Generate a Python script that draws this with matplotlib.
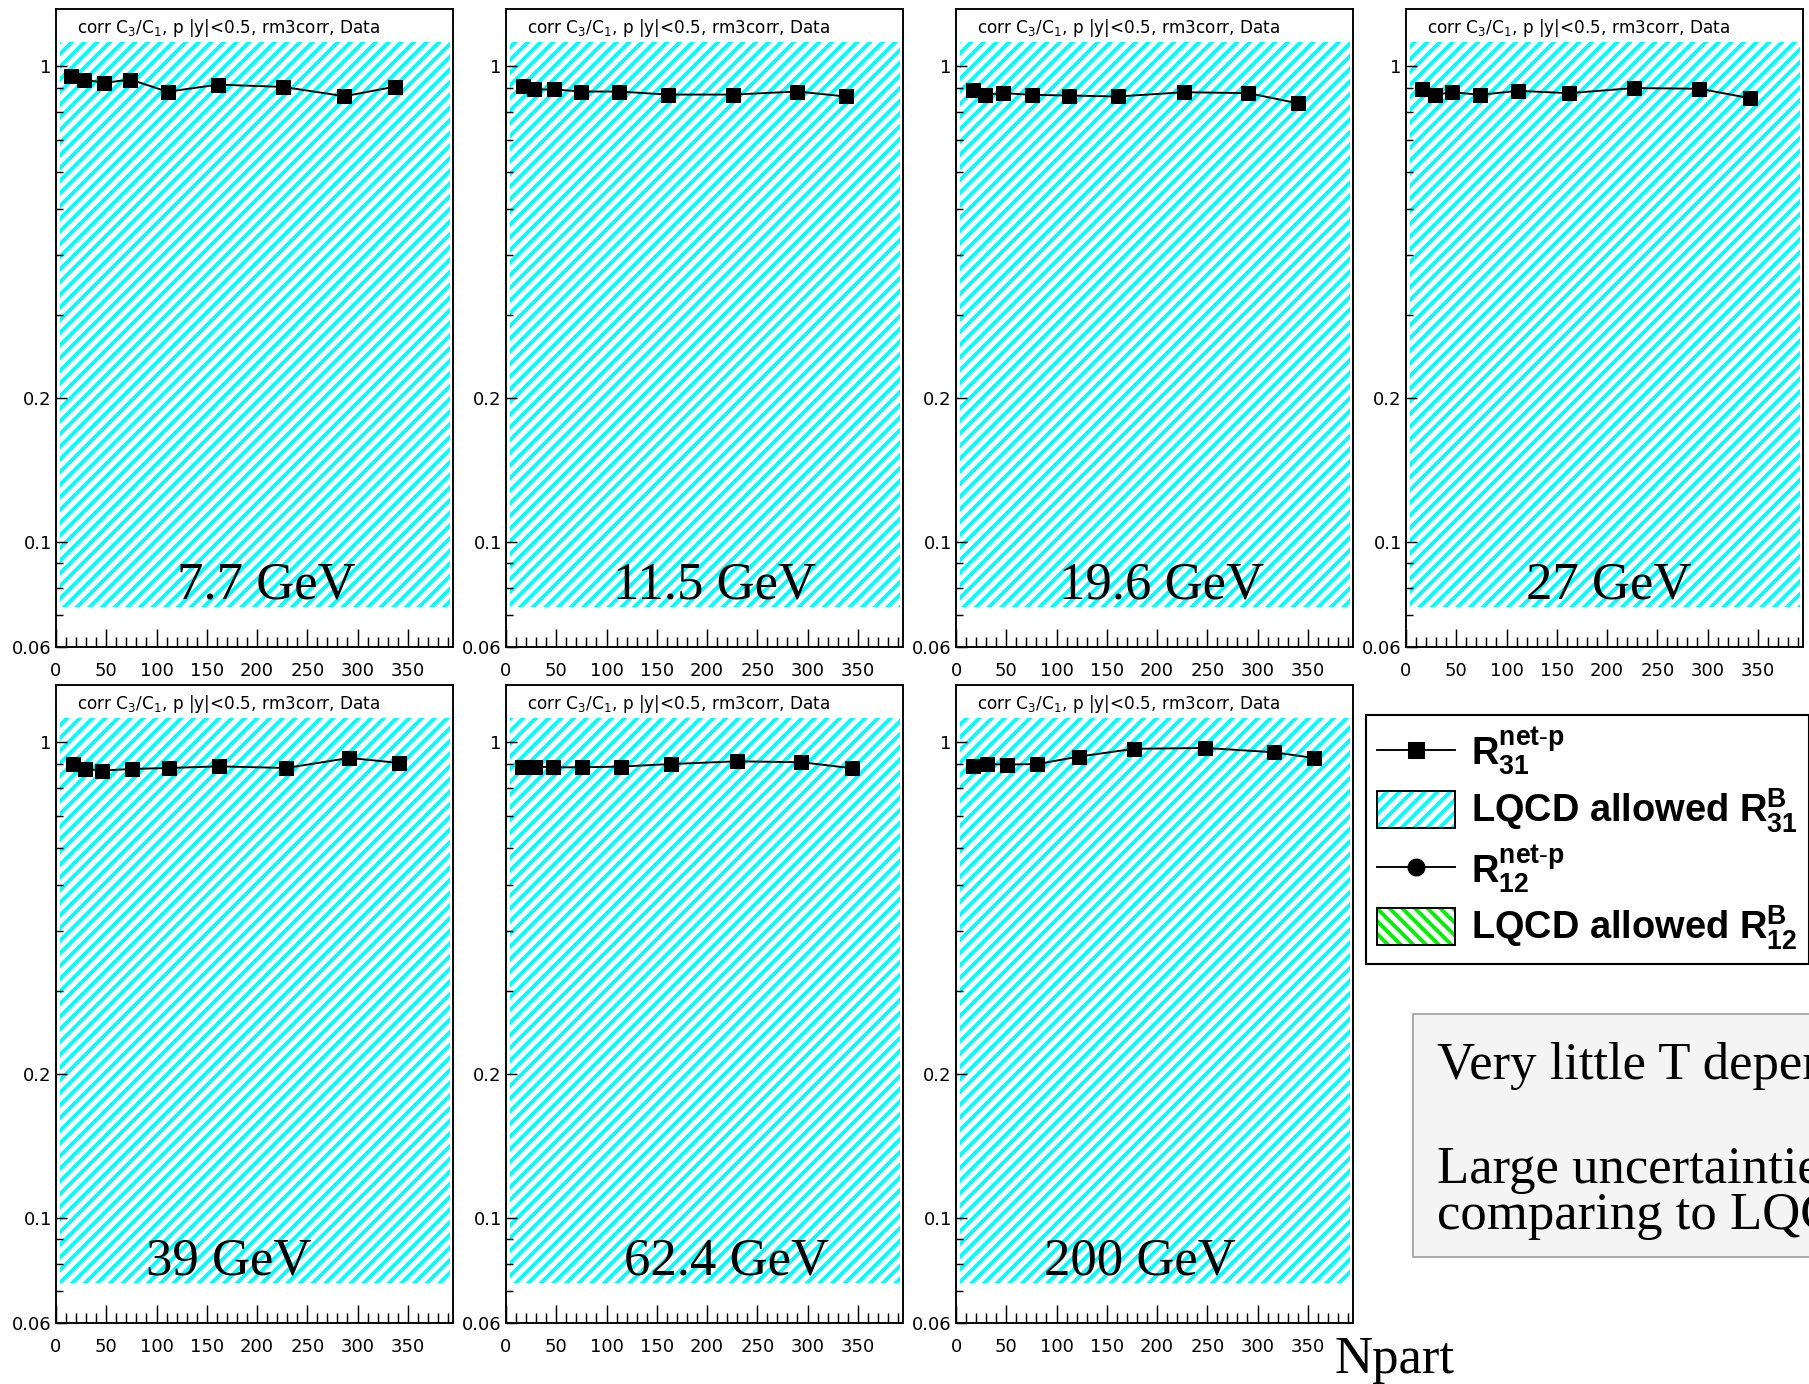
import numpy as np
import matplotlib.pyplot as plt
from matplotlib.lines import Line2D
from matplotlib.patches import Patch, Rectangle
from matplotlib.ticker import FixedLocator, FixedFormatter, NullFormatter

# dpi 76 so that the default hatch spacing matches the ROOT pattern
DPI = 76
W, H = 1810, 1384

plt.rcParams['font.family'] = ['DejaVu Sans']
plt.rcParams['mathtext.fontset'] = 'dejavusans'
plt.rcParams['hatch.linewidth'] = 3.6

# data
energies = ['7.7 GeV', '11.5 GeV', '19.6 GeV', '27 GeV', '39 GeV', '62.4 GeV', '200 GeV']
npart = [
    [15, 28, 48, 74, 111, 161, 226, 287, 337],
    [17, 28, 48, 75, 112, 161, 226, 290, 338],
    [17, 29, 47, 76, 112, 161, 227, 291, 340],
    [16, 29, 46, 74, 111, 162, 227, 292, 342],
    [17, 29, 46, 76, 112, 162, 229, 292, 341],
    [16, 29, 47, 76, 114, 164, 230, 294, 344],
    [17, 31, 51, 81, 122, 177, 248, 316, 356],
]
r31 = [
    [0.956, 0.938, 0.923, 0.938, 0.884, 0.915, 0.905, 0.865, 0.906],
    [0.907, 0.894, 0.894, 0.885, 0.885, 0.872, 0.872, 0.885, 0.864],
    [0.893, 0.871, 0.878, 0.871, 0.868, 0.864, 0.882, 0.878, 0.836],
    [0.897, 0.871, 0.882, 0.871, 0.888, 0.878, 0.900, 0.897, 0.857],
    [0.900, 0.879, 0.872, 0.879, 0.883, 0.890, 0.883, 0.927, 0.905],
    [0.889, 0.889, 0.886, 0.886, 0.889, 0.900, 0.912, 0.908, 0.882],
    [0.893, 0.900, 0.898, 0.900, 0.933, 0.969, 0.973, 0.953, 0.927],
]
# LQCD allowed band for R31
band_x = [4, 392]
band_lo = 0.073
band_hi = 1.125

xticks = [0, 50, 100, 150, 200, 250, 300, 350]
yticks = [0.06, 0.1, 0.2, 1]
yticklabels = ['0.06', '0.1', '0.2', '1']
yminor = [0.07, 0.08, 0.09, 0.3, 0.4, 0.5, 0.6, 0.7, 0.8, 0.9]

title = r'corr C$_3$/C$_1$, p |y|<0.5, rm3corr, Data'
label_x = [209, 208, 205, 202, 172, 219, 183]

fig = plt.figure(figsize=(W / DPI, H / DPI), dpi=DPI)

lefts = [56, 506, 956, 1406, 56, 506, 956]
tops = [9, 9, 9, 9, 685, 685, 685]
aw, ah = 397, 638

for i, e in enumerate(energies):
    ax = fig.add_axes([lefts[i] / W, 1 - (tops[i] + ah) / H, aw / W, ah / H])
    ax.set_yscale('log')
    ax.set_xlim(0, 395)
    ax.set_ylim(0.06, 1.32)
    ax.fill_between(band_x, band_lo, band_hi, facecolor='white',
                    edgecolor='#00ffff', hatch='//', linewidth=0)
    ax.plot(npart[i], r31[i], '-s', color='black', ms=14, lw=1.8)

    ax.xaxis.set_major_locator(FixedLocator(xticks))
    ax.xaxis.set_minor_locator(FixedLocator(np.arange(0, 400, 10)))
    ax.yaxis.set_major_locator(FixedLocator(yticks))
    ax.yaxis.set_major_formatter(FixedFormatter(yticklabels))
    ax.yaxis.set_minor_locator(FixedLocator(yminor))
    ax.yaxis.set_minor_formatter(NullFormatter())
    ax.tick_params(which='both', direction='in', top=False, right=False, width=1.4)
    ax.tick_params(axis='x', which='major', length=17, pad=14, labelsize=17)
    ax.tick_params(axis='x', which='minor', length=9.5)
    ax.tick_params(axis='y', which='major', length=10, pad=4, labelsize=17)
    ax.tick_params(axis='y', which='minor', length=6.5)
    for s in ax.spines.values():
        s.set_linewidth(1.8)

    ax.text(0.053, 0.962, title, transform=ax.transAxes, fontsize=16,
            va='baseline', ha='left')
    ax.text(label_x[i], 0.076, e, fontsize=50, family='Liberation Serif',
            ha='center', va='baseline')

# legend
handles = [
    Line2D([], [], color='black', marker='s', ms=16, lw=1.8),
    (Patch(facecolor='white', edgecolor='#00ffff', hatch='//', lw=0),
     Patch(facecolor='none', edgecolor='black', lw=1.8)),
    Line2D([], [], color='black', marker='o', ms=16, lw=1.8),
    (Patch(facecolor='white', edgecolor='#00ee00', hatch='\\\\', lw=0),
     Patch(facecolor='none', edgecolor='black', lw=1.8)),
]
labels = [
    r'$\mathbf{R}^{\mathbf{net}\text{-}\mathbf{p}}_{\mathbf{31}}$',
    r'LQCD allowed $\mathbf{R}^{\mathbf{B}}_{\mathbf{31}}$',
    r'$\mathbf{R}^{\mathbf{net}\text{-}\mathbf{p}}_{\mathbf{12}}$',
    r'LQCD allowed $\mathbf{R}^{\mathbf{B}}_{\mathbf{12}}$',
]
plt.rcParams['mathtext.fontset'] = 'custom'
plt.rcParams['mathtext.rm'] = 'Liberation Sans'
plt.rcParams['mathtext.it'] = 'Liberation Sans:italic'
plt.rcParams['mathtext.bf'] = 'Liberation Sans:bold'
leg = fig.legend(handles, labels, loc='upper left',
                 bbox_to_anchor=(1366 / W, 1 - 715 / H),
                 prop={'family': 'Liberation Sans', 'weight': 'bold', 'size': 36},
                 frameon=True, fancybox=False, edgecolor='black', framealpha=1,
                 handlelength=2.05, handleheight=1.1, handletextpad=0.42,
                 labelspacing=0.22, borderpad=0.3, borderaxespad=0)
leg.get_frame().set_linewidth(2)

# text box on the right
fig.patches.append(Rectangle((1413 / W, 1 - 1257 / H), 420 / W, 243 / H,
                             transform=fig.transFigure, facecolor='#f4f4f4',
                             edgecolor='#999999', lw=1.5))
fig.text(1437 / W, 1 - 1079 / H, 'Very little T dependence', fontsize=50,
         family='Liberation Serif', va='baseline')
fig.text(1437 / W, 1 - 1183 / H, 'Large uncertainties when', fontsize=50,
         family='Liberation Serif', va='baseline')
fig.text(1437 / W, 1 - 1229 / H, 'comparing to LQCD', fontsize=50,
         family='Liberation Serif', va='baseline')

fig.text(1335 / W, 1 - 1373 / H, 'Npart', fontsize=50,
         family='Liberation Serif', va='baseline')

fig.savefig('out.png', dpi=DPI)
